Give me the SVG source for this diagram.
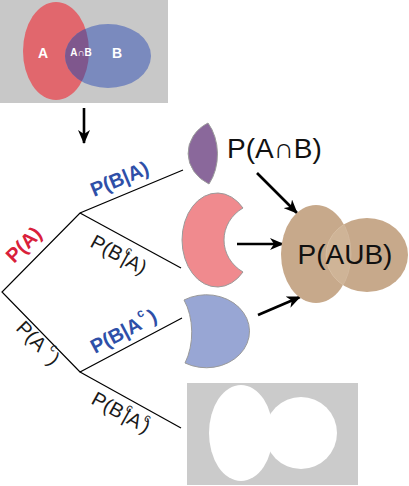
<svg xmlns="http://www.w3.org/2000/svg" width="409" height="486" viewBox="0 0 409 486">
<style>
text{font-family:"Liberation Sans","DejaVu Sans",Arial,sans-serif}
.edge{stroke:#000;stroke-width:1.2;fill:none}
.arr{stroke:#000;stroke-width:2.6;fill:none;marker-end:url(#ah)}
.lbl{font-size:20px;fill:#1a1a1a}
.blue{fill:#2e4fa8;font-weight:bold}
.red{fill:#d9203a;font-weight:bold}
.sup{font-size:12px}
.piece{stroke:#9a9a9a;stroke-width:1}
.vl{fill:#fff;font-weight:bold;text-anchor:middle}
</style>
<defs>
<marker id="ah" markerUnits="userSpaceOnUse" markerWidth="16" markerHeight="12" refX="13" refY="6" orient="auto">
<path d="M0,0 L14,6 L0,12 L4,6 Z" fill="#000"/>
</marker>
<clipPath id="clipA"><ellipse cx="56" cy="51" rx="33" ry="49"/></clipPath>
<clipPath id="clipU"><ellipse cx="316" cy="254" rx="35" ry="49"/></clipPath>
<clipPath id="clipB2"><ellipse cx="367" cy="255" rx="41" ry="37"/></clipPath>
</defs>

<g id="venn">
<rect x="0" y="0" width="168" height="103" fill="#c8c8c8"/>
<ellipse cx="56" cy="51" rx="33" ry="49" fill="#e1676d"/>
<ellipse cx="108" cy="56" rx="43" ry="32" fill="#7a8abe"/>
<ellipse cx="108" cy="56" rx="43" ry="32" fill="#7f578d" clip-path="url(#clipA)"/>
<text class="vl" x="43" y="58" font-size="14">A</text>
<text class="vl" x="81" y="56" font-size="10" font-weight="normal">A∩B</text>
<text class="vl" x="117" y="58" font-size="14">B</text>
</g>

<g id="connectors">
<line class="arr" x1="84" y1="108" x2="84" y2="143"/>
<polyline class="edge" points="183,170 80,213 2,292 80,372 182,318"/>
<line class="edge" x1="80" y1="213" x2="181" y2="268"/>
<line class="edge" x1="80" y1="372" x2="181" y2="428"/>
<line class="arr" x1="257" y1="173" x2="297" y2="213"/>
<line class="arr" x1="237" y1="244" x2="283" y2="244"/>
<line class="arr" x1="258" y1="315" x2="300" y2="297"/>
</g>

<g id="labels">
<text class="lbl red" transform="translate(14,264) rotate(-45)">P(A)</text>
<text class="lbl blue" transform="translate(94,197) rotate(-22.7)">P(B|A)</text>
<text class="lbl" transform="translate(89,246) rotate(28.6)">P(B<tspan class="sup" dy="-11" dx="1">c</tspan><tspan dy="11" dx="-5">|A)</tspan></text>
<text class="lbl" transform="translate(15,329) rotate(45.7)">P(A <tspan class="sup" dy="-11">c</tspan><tspan dy="11" dx="2">)</tspan></text>
<text class="lbl blue" transform="translate(95,354) rotate(-27.9)">P(B|A<tspan class="sup" dy="-11" dx="1">c</tspan><tspan dy="11" dx="3">)</tspan></text>
<text class="lbl" transform="translate(90,403) rotate(29)">P(B<tspan class="sup" dy="-11" dx="1">c</tspan><tspan dy="11" dx="-5">|A</tspan><tspan class="sup" dy="-11" dx="1">c</tspan><tspan dy="11" dx="-4">)</tspan></text>
</g>

<g id="intersection">
<path class="piece" d="M208,123 A40,35 0 0 0 209,184 A33,44.5 0 0 0 208,123 Z" fill="#8a689b"/>
<text x="227" y="158" font-size="28" fill="#111">P(A∩B)</text>
</g>

<g id="a-only">
<path class="piece" d="M243,208 A35.2,47 0 1 0 243,272 A40,37.6 0 0 1 243,208 Z" fill="#f08a8e"/>
</g>

<g id="b-only">
<path class="piece" d="M184,300 A43.2,36.5 0 1 1 185,363 A28,47 0 0 0 184,300 Z" fill="#98a6d4"/>
</g>

<g id="union">
<ellipse cx="316" cy="254" rx="35" ry="49" fill="#c7a98b"/>
<ellipse cx="367" cy="255" rx="41" ry="37" fill="#c7a98b"/>
<ellipse cx="367" cy="255" rx="41" ry="37" fill="#cfb497" stroke="#d8c0a6" stroke-width="0.8" clip-path="url(#clipU)"/>
<ellipse cx="316" cy="254" rx="35" ry="49" fill="none" stroke="#d3baa0" stroke-width="0.8" clip-path="url(#clipB2)"/>
<text x="345" y="264" font-size="28" fill="#111" text-anchor="middle">P(AUB)</text>
</g>

<g id="complement">
<rect x="187" y="383" width="171" height="102" fill="#cbcbcb"/>
<ellipse cx="241" cy="433" rx="32" ry="48" fill="#fff"/>
<ellipse cx="301" cy="433" rx="36" ry="36" fill="#fff"/>
</g>
</svg>
